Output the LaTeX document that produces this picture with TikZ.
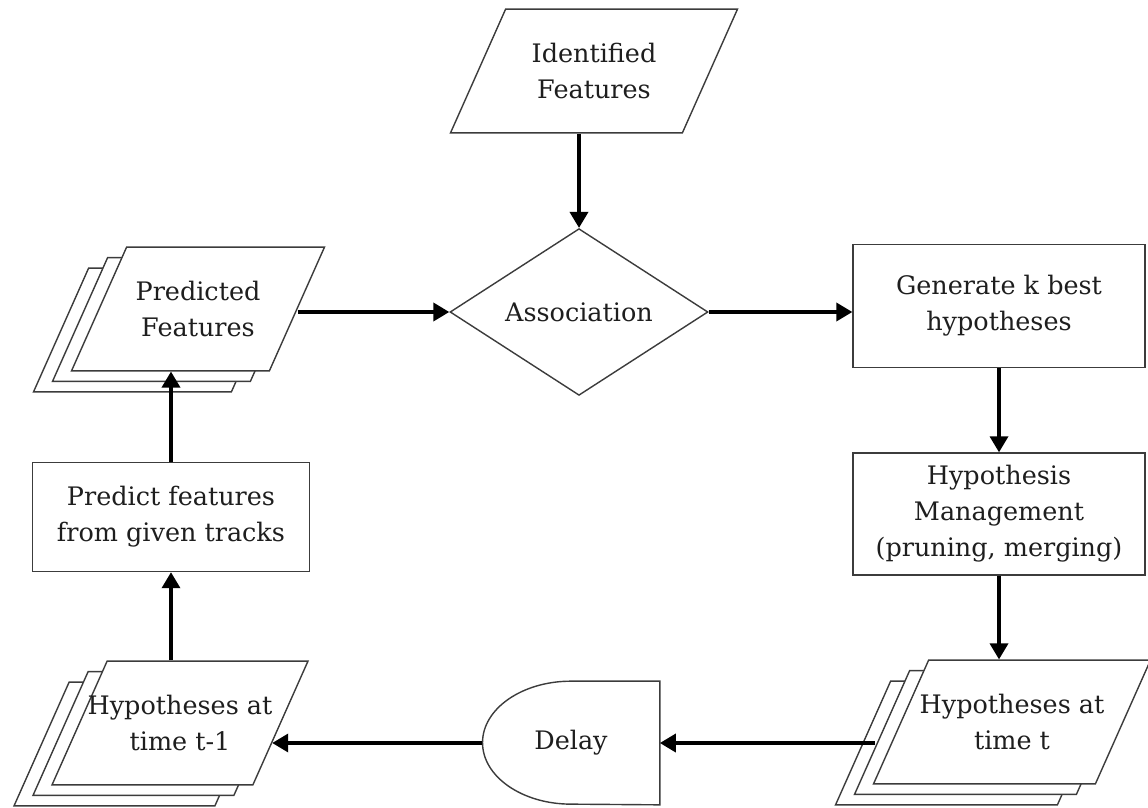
\documentclass[tikz,border=0pt]{standalone}
\usepackage{fontspec}
\setmainfont{DejaVu Serif}
\usetikzlibrary{arrows.meta,positioning,calc,shapes.geometric,shadows,backgrounds}
\definecolor{ink}{RGB}{60,60,60}
\definecolor{txt}{RGB}{30,30,30}
\tikzset{
  base/.style={draw=ink,line width=0.8pt,fill=white,align=center,inner sep=0pt,
    text=txt,font=\fontsize{14.5}{20.5}\selectfont},
  io/.style={base,trapezium,trapezium left angle=66,trapezium right angle=114,
    trapezium stretches body=true,inner ysep=0.68cm,inner xsep=-0.6cm},
  iostack/.style={io,
    copy shadow={shadow xshift=-0.76cm,shadow yshift=-0.42cm,draw=ink,fill=white,line width=0.8pt},
    copy shadow={shadow xshift=-0.38cm,shadow yshift=-0.21cm,draw=ink,fill=white,line width=0.8pt}},
  proc/.style={base,rectangle,minimum height=2.46cm},
  decide/.style={base,diamond,minimum width=5.16cm,minimum height=3cm},
  arr/.style={-{Triangle[length=0.32cm,width=0.36cm]},line width=2pt},
}

\begin{document}
\begin{tikzpicture}[x=0.02cm,y=-0.02cm]
  \useasboundingbox (0,0) rectangle (1148,807);
  % top of the loop
  \node[io,minimum width=5.74cm] (ident) at (594,71) {Identified\\Features};
  \node[decide] (assoc) at (579,312) {Association};
  \node[iostack,minimum width=5.06cm] (pred) at (198,309) {Predicted\\Features};
  \node[proc,minimum width=5.84cm] (gen) at (999,306) {Generate k best\\hypotheses};
  % right column
  \node[proc,minimum width=5.84cm,minimum height=2.44cm] (mgmt) at (999,514)
    {Hypothesis\\Management\\(pruning, merging)};
  \node[iostack,minimum width=5.54cm] (hypt) at (1012,722)
    {Hypotheses at\\time t};
  % bottom and left
  \node[text=txt,font=\fontsize{14.5}{20.5}\selectfont,minimum width=3.54cm,
    minimum height=2.46cm] (delay) at (571,743) {Delay};
  \begin{scope}[on background layer]
    \draw[draw=ink,line width=0.8pt,fill=white] (delay.north east) -- (delay.north)
      arc[start angle=90,end angle=270,x radius=1.77cm,y radius=1.23cm]
      -- (delay.south east) -- cycle;
  \end{scope}
  \node[iostack,minimum width=5.12cm] (hypprev) at (180,723) {Hypotheses at\\time t-1};
  \node[proc,minimum width=5.54cm,minimum height=2.18cm] (predict) at (171,517)
    {Predict features\\from given tracks};

  \draw[arr] (assoc.north |- ident.south) -- (assoc.north);
  \draw[arr] (pred.east |- assoc.west) -- (assoc.west);
  \draw[arr] (assoc.east) -- (assoc.east -| gen.west);
  \draw[arr] (gen.south) -- (gen.south |- mgmt.north);
  \draw[arr] (mgmt.south) -- (mgmt.south |- hypt.north);
  \draw[arr] ([xshift=-0.5cm]hypt.west |- delay.east) -- (delay.east);
  \draw[arr] (delay.west) -- ([xshift=-0.18cm]delay.west -| hypprev.east);
  \draw[arr] (predict.south |- hypprev.north) -- (predict.south);
  \draw[arr] (predict.north) -- (predict.north |- pred.south);
\end{tikzpicture}
\end{document}
